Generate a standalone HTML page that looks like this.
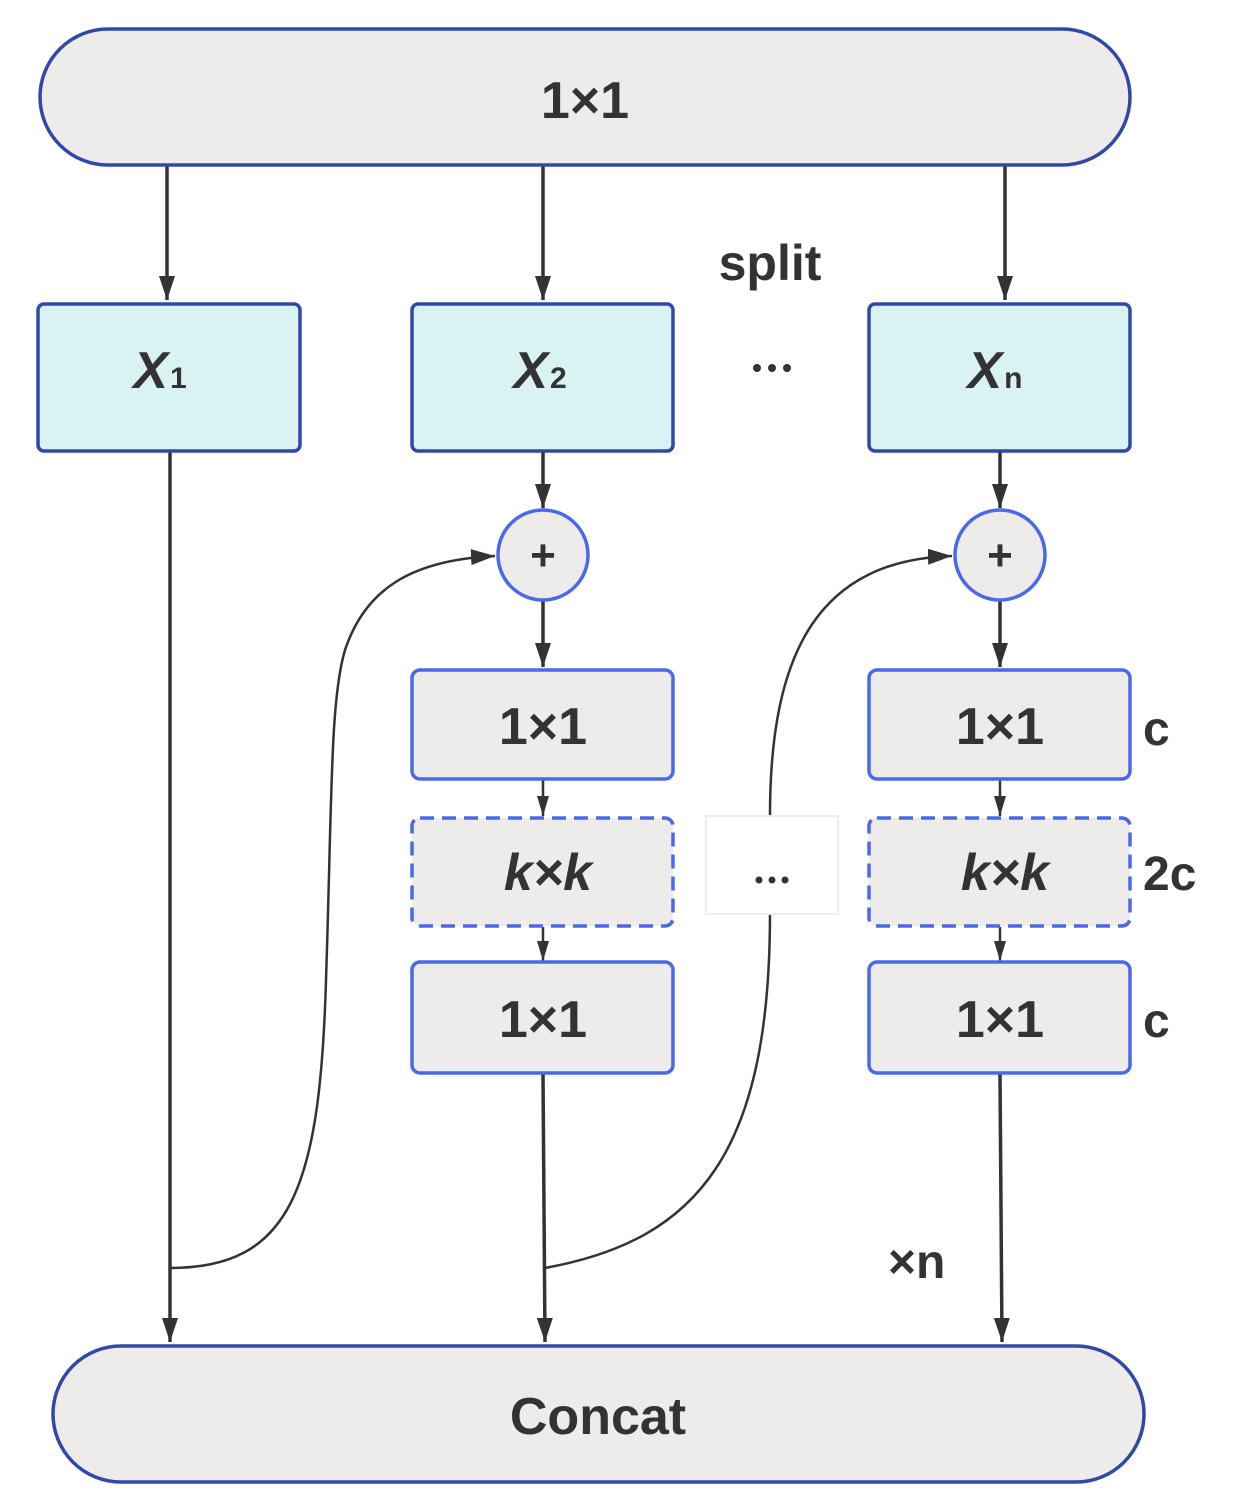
<!DOCTYPE html>
<html><head><meta charset="utf-8"><style>body{margin:0;background:#fff}svg{display:block}</style></head>
<body>
<svg width="1233" height="1509" viewBox="0 0 1233 1509" xmlns="http://www.w3.org/2000/svg" font-family="Liberation Sans, sans-serif" font-weight="bold" fill="#333">
<defs>
<marker id="b" markerWidth="24" markerHeight="30" refX="30" refY="12" orient="auto" markerUnits="userSpaceOnUse" viewBox="0 0 30 24"><path d="M0,2 L30,12 L0,22 z" fill="#333"/></marker>
<marker id="s" markerWidth="20" markerHeight="16" refX="20" refY="8" orient="auto" markerUnits="userSpaceOnUse" viewBox="0 0 20 16"><path d="M0,2 L20,8 L0,14 z" fill="#333"/></marker>
</defs>
<g stroke="#333" stroke-width="3.5" fill="none">
<line x1="167" y1="166" x2="167" y2="300" marker-end="url(#b)"/>
<line x1="543" y1="166" x2="543" y2="300" marker-end="url(#b)"/>
<line x1="1005" y1="166" x2="1005" y2="300" marker-end="url(#b)"/>
<line x1="543" y1="452" x2="543" y2="508" marker-end="url(#b)"/>
<line x1="1000" y1="452" x2="1000" y2="508" marker-end="url(#b)"/>
<line x1="543" y1="601" x2="543" y2="667" marker-end="url(#b)"/>
<line x1="1000" y1="601" x2="1000" y2="667" marker-end="url(#b)"/>
<line x1="170" y1="452" x2="170" y2="1342" marker-end="url(#b)"/>
<line x1="543" y1="1074" x2="545" y2="1342" marker-end="url(#b)"/>
<line x1="1000" y1="1074" x2="1002" y2="1342" marker-end="url(#b)"/>
</g>
<g stroke="#333" stroke-width="2.5" fill="none">
<line x1="543" y1="780" x2="543" y2="816" marker-end="url(#s)"/>
<line x1="543" y1="927" x2="543" y2="961" marker-end="url(#s)"/>
<line x1="1000" y1="780" x2="1000" y2="816" marker-end="url(#s)"/>
<line x1="1000" y1="927" x2="1000" y2="961" marker-end="url(#s)"/>
<path d="M170,1268 C290,1268 320,1190 326,980 C332,800 330,700 345,650 C365,590 410,560 495,556" marker-end="url(#b)"/>
<path d="M545,1268 C700,1240 770,1150 770,913"/>
<path d="M770,815 C770,650 820,560 952,556" marker-end="url(#b)"/>
</g>
<rect x="40" y="29" width="1090" height="136" rx="68" fill="#eeebeb" stroke="#3049a6" stroke-width="3.5"/>
<text x="585" y="118" font-size="52" text-anchor="middle">1×1</text>
<rect x="53" y="1346" width="1091" height="136" rx="68" fill="#eeebeb" stroke="#3049a6" stroke-width="3.5"/>
<text x="598" y="1434" font-size="52" text-anchor="middle">Concat</text>
<g fill="#d9f3f3" stroke="#3049a6" stroke-width="3.5">
<rect x="38" y="304" width="262" height="147" rx="6"/>
<rect x="412" y="304" width="261" height="147" rx="6"/>
<rect x="869" y="304" width="261" height="147" rx="6"/>
</g>
<g font-size="52" font-style="italic" text-anchor="middle">
<text x="160" y="388">X<tspan font-size="30" font-style="normal" dx="2">1</tspan></text>
<text x="540" y="388">X<tspan font-size="30" font-style="normal" dx="2">2</tspan></text>
<text x="995" y="388">X<tspan font-size="30" font-style="normal" dx="2">n</tspan></text>
</g>
<text x="770" y="280" font-size="50" text-anchor="middle">split</text>
<g fill="#eeebeb" stroke="#4a68e8" stroke-width="3.5">
<circle cx="543" cy="555" r="45"/>
<circle cx="1000" cy="555" r="45"/>
<rect x="412" y="670" width="261" height="109" rx="8"/>
<rect x="412" y="962" width="261" height="111" rx="8"/>
<rect x="869" y="670" width="261" height="109" rx="8"/>
<rect x="869" y="962" width="261" height="111" rx="8"/>
<rect x="412" y="818" width="261" height="108" rx="8" stroke-dasharray="14,8"/>
<rect x="869" y="818" width="261" height="108" rx="8" stroke-dasharray="14,8"/>
</g>
<rect x="706" y="816" width="132" height="98" fill="#fff" stroke="#eee" stroke-width="2"/>
<g fill="#333"><circle cx="757" cy="368" r="4"/><circle cx="772" cy="368" r="4"/><circle cx="787" cy="368" r="4"/>
<circle cx="759" cy="880" r="3.5"/><circle cx="772" cy="880" r="3.5"/><circle cx="785" cy="880" r="3.5"/></g>
<g font-size="44" text-anchor="middle">
<text x="543" y="570">+</text>
<text x="1000" y="570">+</text>
</g>
<g font-size="52" text-anchor="middle">
<text x="543" y="744">1×1</text>
<text x="543" y="1037">1×1</text>
<text x="1000" y="744">1×1</text>
<text x="1000" y="1037">1×1</text>
<text x="548" y="890" font-style="italic">k×k</text>
<text x="1005" y="890" font-style="italic">k×k</text>
</g>
<g font-size="48">
<text x="1143" y="745">c</text>
<text x="1143" y="890">2c</text>
<text x="1143" y="1037">c</text>
<text x="888" y="1278">×n</text>
</g>
</svg>
</body></html>
